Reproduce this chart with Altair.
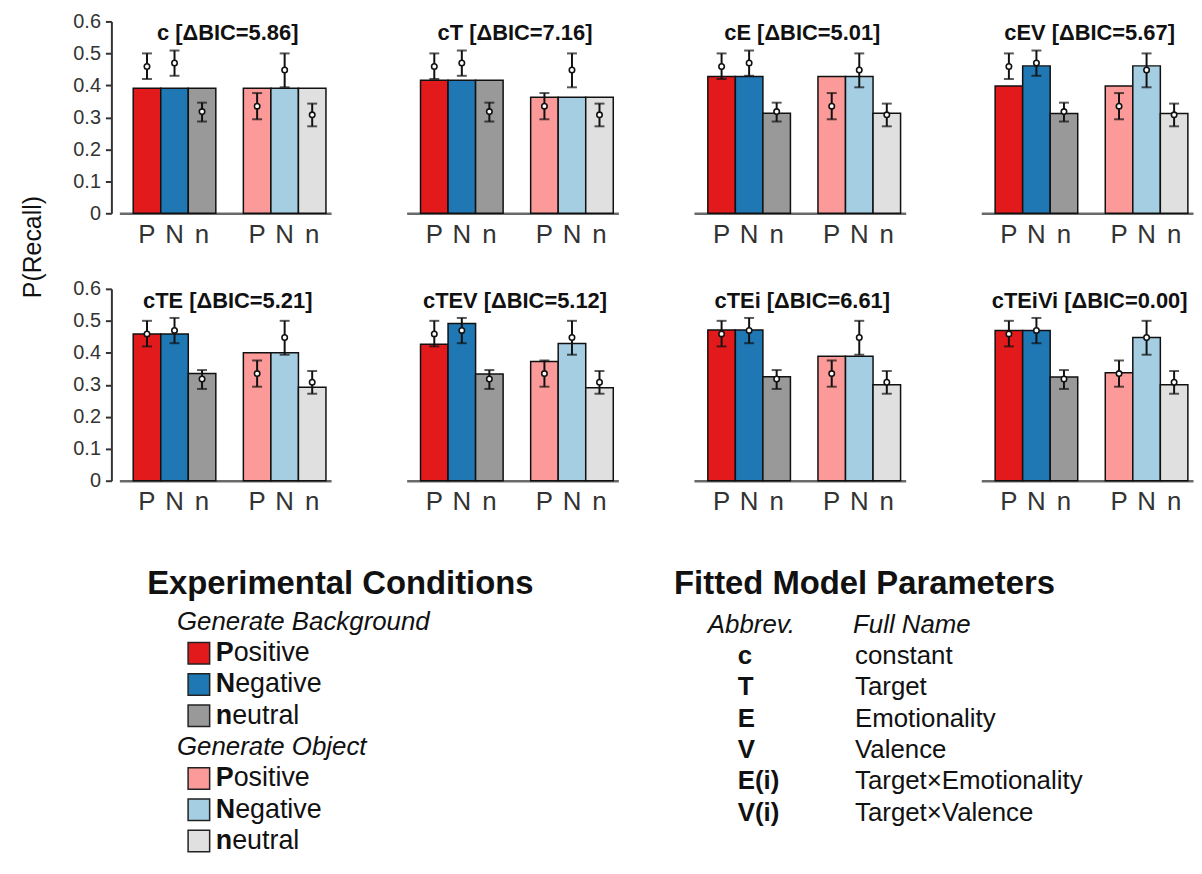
import altair as alt
import pandas as pd

# ---------------- data ----------------
conditions = ["bgP", "bgN", "bgn", "objP", "objN", "objn"]
slots = ["bgP", "bgN", "bgn", "gap", "objP", "objN", "objn"]
bar_colors = ["#e31a1c", "#1f78b4", "#999999", "#fb9a99", "#a6cee3", "#e0e0e0"]

obs_mean = [0.459, 0.470, 0.318, 0.335, 0.448, 0.308]
obs_lo = [0.420, 0.430, 0.287, 0.294, 0.394, 0.272]
obs_hi = [0.500, 0.509, 0.346, 0.376, 0.500, 0.343]

models = ["c", "cT", "cE", "cEV", "cTE", "cTEV", "cTEi", "cTEiVi"]
delta_bic = ["5.86", "7.16", "5.01", "5.67", "5.21", "5.12", "6.61", "0.00"]

pred_c = [0.391, 0.391, 0.391, 0.391, 0.391, 0.391]
pred_cT = [0.416, 0.416, 0.416, 0.363, 0.363, 0.363]
pred_cE = [0.428, 0.428, 0.313, 0.428, 0.428, 0.313]
pred_cEV = [0.398, 0.461, 0.312, 0.398, 0.461, 0.312]
pred_cTE = [0.459, 0.459, 0.335, 0.400, 0.400, 0.292]
pred_cTEV = [0.427, 0.492, 0.334, 0.373, 0.429, 0.291]
pred_cTEi = [0.471, 0.471, 0.325, 0.389, 0.389, 0.300]
pred_cTEiVi = [0.470, 0.470, 0.324, 0.338, 0.448, 0.300]
predictions = [pred_c, pred_cT, pred_cE, pred_cEV,
               pred_cTE, pred_cTEV, pred_cTEi, pred_cTEiVi]

y_ticks = [0, 0.1, 0.2, 0.3, 0.4, 0.5, 0.6]
y_title = "P(Recall)"

exp_heading = "Experimental Conditions"
exp_subheads = ["Generate Background", "Generate Object"]
entry_keys = conditions
entry_initials = ["P", "N", "n", "P", "N", "n"]
entry_rests = ["ositive", "egative", "eutral", "ositive", "egative", "eutral"]

par_heading = "Fitted Model Parameters"
par_colheads = ["Abbrev.", "Full Name"]
par_abbrev = ["c", "T", "E", "V", "E(i)", "V(i)"]
par_names = ["constant", "Target", "Emotionality", "Valence",
             "Target\u00d7Emotionality", "Target\u00d7Valence"]

# ---------------- styling ----------------
FONT = "Liberation Sans"
W, H = 213, 193
INK = "#111111"


def panel(i, first, with_ytitle):
    df = pd.DataFrame({
        "cond": conditions,
        "pred": predictions[i],
        "obs": obs_mean,
        "lo": obs_lo,
        "hi": obs_hi,
    })
    xscale = alt.Scale(domain=slots, paddingInner=0, paddingOuter=0.345, align=0.73)
    xaxis = alt.Axis(
        title=None, ticks=False, tickSize=0, labelAngle=0,
        labelExpr="datum.value == 'gap' ? '' : substring(datum.value, length(datum.value) - 1)",
        labelFont=FONT, labelFontSize=26, labelColor="#333333", labelPadding=8,
        domainColor="#6a6a6a", domainWidth=2.5,
    )
    yscale = alt.Scale(domain=[0, 0.6], nice=False, zero=True)
    if first:
        yaxis = alt.Axis(
            title=None, values=y_ticks, offset=8,
            labelExpr="datum.value == 0 ? '0' : format(datum.value, '.1f')",
            labelFont=FONT, labelFontSize=20, labelColor="#333333", labelPadding=5,
            domainColor="#333333", domainWidth=2,
            tickColor="#333333", tickWidth=2, tickSize=6, grid=False,
        )
    else:
        yaxis = None
    X = alt.X("cond:N", scale=xscale, axis=xaxis)
    base = alt.Chart(df)
    bars = base.mark_bar(stroke=INK, strokeWidth=1.5).encode(
        x=X,
        y=alt.Y("pred:Q", scale=yscale, axis=yaxis),
        fill=alt.Fill("cond:N", scale=alt.Scale(domain=conditions, range=bar_colors), legend=None),
    )
    rules = base.mark_rule(color=INK, strokeWidth=2).encode(
        x=X, y=alt.Y("lo:Q", scale=yscale, axis=yaxis), y2="hi:Q"
    )
    cap_lo = base.mark_tick(color=INK, thickness=2, size=10).encode(
        x=X, y=alt.Y("lo:Q", scale=yscale, axis=yaxis)
    )
    cap_hi = base.mark_tick(color=INK, thickness=2, size=10).encode(
        x=X, y=alt.Y("hi:Q", scale=yscale, axis=yaxis)
    )
    dots = base.mark_point(filled=True, fill="white", stroke=INK, strokeWidth=1.6,
                           size=30, opacity=1).encode(
        x=X, y=alt.Y("obs:Q", scale=yscale, axis=yaxis)
    )
    title = alt.Chart(pd.DataFrame({"t": [f"{models[i]} [\u0394BIC={delta_bic[i]}]"]})).mark_text(
        font=FONT, fontSize=22, fontWeight="bold", color=INK, align="center", baseline="middle"
    ).encode(text="t:N", x=alt.value(109), y=alt.value(12))
    layers = [bars, rules, cap_lo, cap_hi, dots, title]
    if with_ytitle:
        yt = alt.Chart(pd.DataFrame({"t": [y_title]})).mark_text(
            font=FONT, fontSize=25, color=INK, angle=270, align="center", baseline="middle"
        ).encode(text="t:N", x=alt.value(-87), y=alt.value(227))
        layers.append(yt)
    return alt.layer(*layers).properties(width=W, height=H)


panels = [panel(i, i in (0, 4), i == 0) for i in range(8)]
grid = alt.concat(*panels, columns=4, spacing=76, bounds="flush")

# ---------------- legend / parameter table ----------------
LX = 120         # page x of the legend frame's left edge (= first panel's left edge)
LTOP = 551       # page y of the legend frame's top edge
LW, LH = 1000, 292
ROW0, ROWSTEP = 617, 31.5   # page y of row 0 and spacing between rows
yscale_leg = alt.Scale(domain=[(LTOP - ROW0) / ROWSTEP, (LTOP + LH - ROW0) / ROWSTEP],
                       range=[0, LH])


def txt(df, x, size, weight="normal", style="normal", dy=0):
    return alt.Chart(df).mark_text(
        font=FONT, fontSize=size, fontWeight=weight, fontStyle=style, color=INK,
        align="left", baseline="middle", dy=dy,
    ).encode(text="t:N", x=alt.value(x - LX), y=alt.Y("row:Q", scale=yscale_leg, axis=None))


frame = alt.Chart(pd.DataFrame({"a": [0]})).mark_rect(opacity=0).encode(
    x=alt.value(0), x2=alt.value(LW), y=alt.value(0), y2=alt.value(LH)
)
heads_left = pd.DataFrame({"t": [exp_heading], "row": [-1.2]})
heads_right = pd.DataFrame({"t": [par_heading], "row": [-1.2]})
subheads = pd.DataFrame({"t": exp_subheads, "row": [0, 4]})
entries = pd.DataFrame({
    "key": entry_keys,
    "t": entry_initials,
    "rest": entry_rests,
    "row": [1, 2, 3, 5, 6, 7],
})

swatches = alt.Chart(entries).mark_square(size=470, stroke="#222222", strokeWidth=1.5, opacity=1).encode(
    x=alt.value(200 - LX),
    y=alt.Y("row:Q", scale=yscale_leg, axis=None),
    fill=alt.Fill("key:N", scale=alt.Scale(domain=conditions, range=bar_colors), legend=None),
)
initials = txt(entries, 217, 27, weight="bold")
letter_w = {"P": 18.0, "N": 19.5, "n": 16.5}
rest_layers = []
for letter, w in letter_w.items():
    sub = entries[entries["t"] == letter][["rest", "row"]].rename(columns={"rest": "t"})
    rest_layers.append(txt(sub, 217 + w, 27))

colheads_a = pd.DataFrame({"t": [par_colheads[0]], "row": [0]})
colheads_b = pd.DataFrame({"t": [par_colheads[1]], "row": [0]})
abbrevs = pd.DataFrame({"t": par_abbrev, "row": [1, 2, 3, 4, 5, 6]})
names = pd.DataFrame({"t": par_names, "row": [1, 2, 3, 4, 5, 6]})

legend = alt.layer(
    frame,
    txt(heads_left, 148, 33, weight="bold"),
    txt(subheads, 178, 26, style="italic"),
    swatches,
    initials,
    *rest_layers,
    txt(heads_right, 678, 33, weight="bold"),
    txt(colheads_a, 712, 26, style="italic", dy=3),
    txt(colheads_b, 858, 26, style="italic", dy=3),
    txt(abbrevs, 742, 26, weight="bold", dy=3),
    txt(names, 860, 26, dy=3),
).properties(width=LW, height=LH)

chart = alt.vconcat(grid, legend, spacing=40).properties(
    padding={"left": 12, "top": 0, "right": 0, "bottom": 0},
    background="white",
).configure(font=FONT, view=alt.ViewConfig(stroke="transparent"))

chart.save("out.html", embed_options={"renderer": "svg", "actions": False})
